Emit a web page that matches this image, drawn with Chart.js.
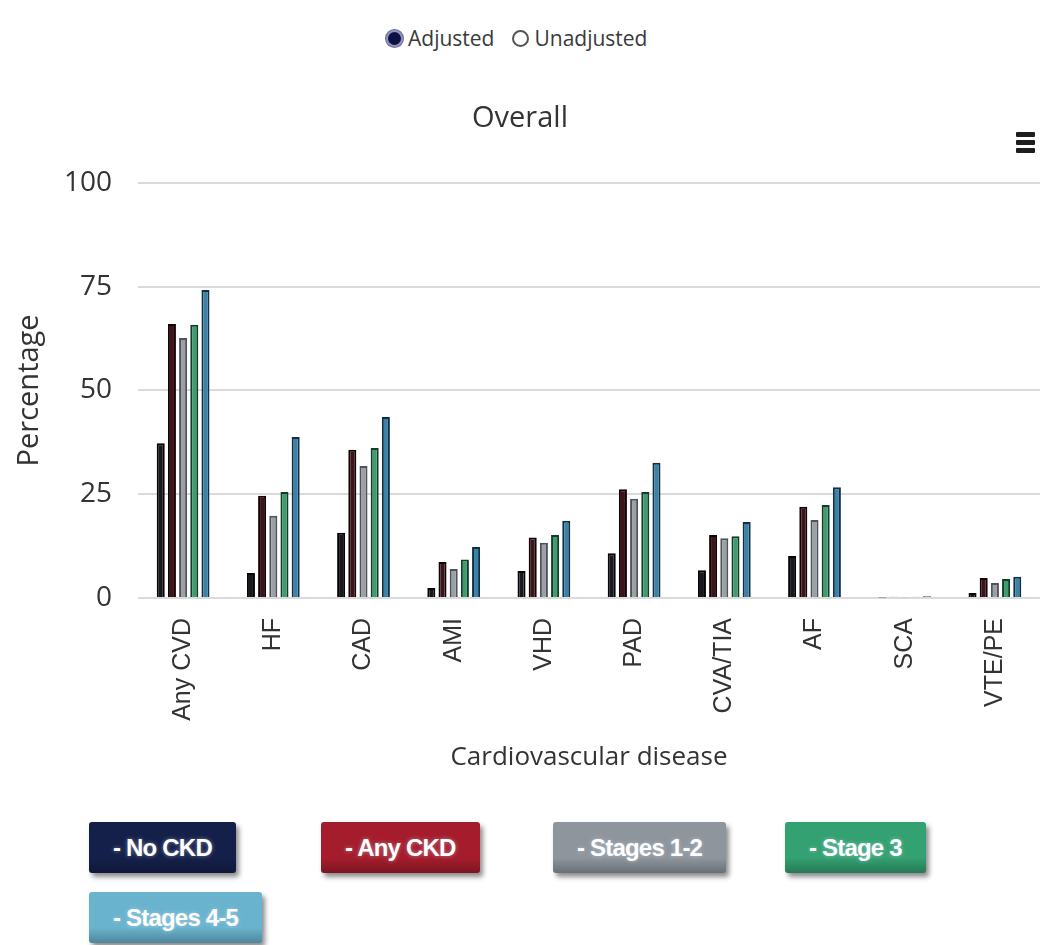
<!DOCTYPE html>
<html>
<head>
<meta charset="utf-8">
<title>Overall</title>
<script src="https://cdn.jsdelivr.net/npm/chart.js@4.4.1/dist/chart.umd.min.js"></script>
<style>
  html, body { margin: 0; padding: 0; background: #fff; }
  body { width: 1040px; height: 945px; position: relative; overflow: hidden; font-family: "Open Sans", sans-serif; }
  #chart { position: absolute; left: 0; top: 0; }
  .radios { position: absolute; top: 24px; left: 386px; font-size: 21px; color: #3a3a3a; display: flex; align-items: center; }
  .radio { display: inline-block; width: 13px; height: 13px; border-radius: 50%; border: 2px solid #555; box-sizing: content-box; margin-right: 5px; }
  .radio.on { background: #0c1240; border-color: #8d93c8; box-shadow: 0 0 0 1px #6c6f90; }
  .radios span.lbl { margin-right: 18px; }
  .menu { position: absolute; left: 1016px; top: 132px; width: 19px; }
  .menu div { height: 5px; background: #1e1e1e; margin-bottom: 3px; border-radius: 1px; }
  #legend { position: absolute; left: 89px; top: 822px; display: grid; grid-template-columns: repeat(4, 232px); row-gap: 19px; }
  .item { justify-self: start; height: 51px; line-height: 51px; padding: 0 24px; border-radius: 3px; color: #fff;
          font-family: "Liberation Sans", Arial, sans-serif; font-weight: bold; font-size: 24px; letter-spacing: -0.8px;
          box-shadow: 3px 4px 5px rgba(0,0,0,0.45); text-shadow: 0 0 4px rgba(220,235,255,0.45); }
</style>
</head>
<body>
<div class="radios">
  <span class="radio on"></span><span class="lbl">Adjusted</span>
  <span class="radio"></span><span>Unadjusted</span>
</div>
<div class="menu"><div></div><div></div><div></div></div>
<canvas id="chart" width="1040" height="790"></canvas>
<div id="legend"></div>
<script>
// Kategorien und Werte (Prozent)
const categories = ['Any CVD', 'HF', 'CAD', 'AMI', 'VHD', 'PAD', 'CVA/TIA', 'AF', 'SCA', 'VTE/PE'];
const seriesNames = ['No CKD', 'Any CKD', 'Stages 1-2', 'Stage 3', 'Stages 4-5'];
const noCkd     = [37.3,  6.0, 15.7,  2.4,  6.5, 10.8,  6.7, 10.1, 0.1, 1.2];
const anyCkd    = [66.0, 24.6, 35.7,  8.7, 14.6, 26.2, 15.2, 22.0, 0.3, 4.8];
const stages12  = [62.6, 19.8, 31.8,  7.0, 13.3, 23.9, 14.4, 18.8, 0.2, 3.6];
const stage3    = [65.8, 25.5, 36.1,  9.3, 15.2, 25.5, 14.9, 22.4, 0.3, 4.6];
const stages45  = [74.2, 38.8, 43.6, 12.3, 18.6, 32.6, 18.3, 26.7, 0.4, 5.1];
const yTicks = [0, 25, 50, 75, 100];

// Farben: Balken (Rand / Fuellung) und Legenden-Buttons
const barBorders = ['#050505', '#120405', '#4e5358', '#123d28', '#112f44'];
const barFills   = ['#17191f', '#3c1419', '#9aa0a6', '#3f9d6d', '#3a82a8'];
const buttonColors = ['#15204a', '#a51d2d', '#8e959d', '#33a171', '#6ab3ce'];

const seriesData = [noCkd, anyCkd, stages12, stage3, stages45];

const datasets = seriesNames.map((name, i) => ({
    label: name,
    data: seriesData[i],
    backgroundColor: barFills[i],
    borderColor: barBorders[i],
    borderWidth: 2,
    categoryPercentage: 0.62,
    barPercentage: 0.72
}));

const ctx = document.getElementById('chart').getContext('2d');
new Chart(ctx, {
    type: 'bar',
    data: { labels: categories, datasets: datasets },
    options: {
        responsive: false,
        animation: false,
        layout: { padding: 0 },
        plugins: {
            legend: { display: false },
            tooltip: { enabled: false },
            title: {
                display: true,
                text: 'Overall',
                color: '#333',
                font: { family: 'Open Sans', size: 29, weight: 'normal' },
                padding: { top: 101, bottom: 47 }
            }
        },
        scales: {
            x: {
                grid: { display: false },
                border: { display: false },
                ticks: {
                    minRotation: 90,
                    maxRotation: 90,
                    padding: 12,
                    color: '#333',
                    font: { family: 'Liberation Sans', size: 25 }
                },
                title: {
                    display: true,
                    text: 'Cardiovascular disease',
                    color: '#333',
                    font: { family: 'Open Sans', size: 26 },
                    padding: { top: 17, bottom: 17 }
                },
                afterFit(scale) { scale.height = 192; }
            },
            y: {
                min: 0,
                max: 100,
                afterBuildTicks(scale) { scale.ticks = yTicks.map(v => ({ value: v })); },
                grid: { color: '#dadada', lineWidth: 2, drawTicks: false },
                border: { display: false },
                ticks: {
                    padding: 26,
                    color: '#333',
                    font: { family: 'Open Sans', size: 28 }
                },
                title: {
                    display: true,
                    text: 'Percentage',
                    color: '#333',
                    font: { family: 'Open Sans', size: 29 },
                    padding: { top: 12, bottom: 12 }
                },
                afterFit(scale) { scale.width = 138; }
            }
        }
    }
});

// Legende als Buttons
const legend = document.getElementById('legend');
seriesNames.forEach((name, i) => {
    const item = document.createElement('div');
    item.className = 'item';
    item.textContent = '- ' + name;
    item.style.background = 'linear-gradient(to bottom, ' + buttonColors[i] + ', ' + buttonColors[i] + ' 70%, rgba(0,0,0,0.25))';
    item.style.backgroundColor = buttonColors[i];
    legend.appendChild(item);
});
</script>
</body>
</html>
